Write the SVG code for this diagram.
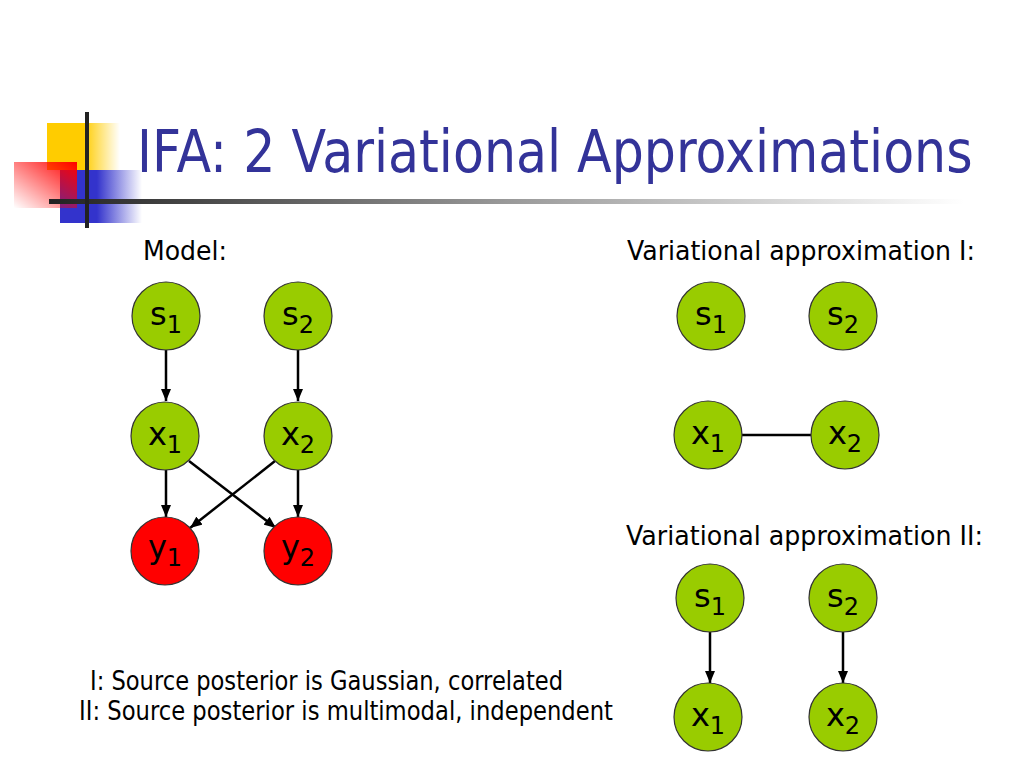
<svg xmlns="http://www.w3.org/2000/svg" width="1024" height="768" viewBox="0 0 1024 768">
<defs>
<style>
.t{font-family:"DejaVu Sans","Liberation Sans",sans-serif;fill:#000}
.title{font-family:"DejaVu Sans","Liberation Sans",sans-serif;fill:#333399;font-size:58px}
.body{font-size:26px}
.lbl{font-family:"DejaVu Sans","Liberation Sans",sans-serif;font-size:32px;fill:#000;text-anchor:middle}
.sub{font-size:24px}
.g{fill:#99CC00;stroke:#333;stroke-width:1.2}
.r{fill:#FF0000;stroke:#333;stroke-width:1.2}
.e{stroke:#000;stroke-width:2.5;fill:none}
.a{marker-end:url(#ah)}
</style>
<marker id="ah" viewBox="0 0 12 10" refX="12" refY="5" markerWidth="12" markerHeight="10" markerUnits="userSpaceOnUse" orient="auto">
<path d="M0,0 L12,5 L0,10 z" fill="#000"/>
</marker>
<linearGradient id="gy" x1="0" y1="0" x2="1" y2="0">
<stop offset="0" stop-color="#FFCC00"/>
<stop offset="0.5" stop-color="#FFCC00"/>
<stop offset="1" stop-color="#FFCC00" stop-opacity="0"/>
</linearGradient>
<linearGradient id="gb" x1="0" y1="0" x2="1" y2="0">
<stop offset="0" stop-color="#3333CC"/>
<stop offset="0.45" stop-color="#3333CC"/>
<stop offset="1" stop-color="#3333CC" stop-opacity="0"/>
</linearGradient>
<linearGradient id="gr" x1="1" y1="0" x2="0" y2="1">
<stop offset="0" stop-color="#FF0000"/>
<stop offset="1" stop-color="#FF0000" stop-opacity="0"/>
</linearGradient>
<linearGradient id="gl" x1="0" y1="0" x2="1" y2="0">
<stop offset="0" stop-color="#222"/>
<stop offset="0.5" stop-color="#999"/>
<stop offset="1" stop-color="#fff"/>
</linearGradient>
</defs>
<rect width="1024" height="768" fill="#fff"/>
<g id="decoration">
<rect x="47" y="123" width="73" height="47" fill="url(#gy)"/>
<rect x="60" y="170" width="82" height="53" fill="url(#gb)"/>
<rect x="14" y="162" width="63" height="46" fill="url(#gr)"/>
<rect x="49" y="199" width="915" height="5" fill="url(#gl)"/>
<rect x="85" y="112" width="4" height="116" fill="#222"/>
</g>
<text class="title" x="0" y="0" transform="translate(137,172) scale(0.85,1)" textLength="983" lengthAdjust="spacingAndGlyphs">IFA: 2 Variational Approximations</text>
<g id="texts">
<text class="t body" x="143" y="260" textLength="84" lengthAdjust="spacingAndGlyphs">Model:</text>
<text class="t body" x="627" y="260" textLength="348" lengthAdjust="spacingAndGlyphs">Variational approximation I:</text>
<text class="t body" x="626" y="545" textLength="357" lengthAdjust="spacingAndGlyphs">Variational approximation II:</text>
<text class="t body" x="90" y="690" textLength="473" lengthAdjust="spacingAndGlyphs">I: Source posterior is Gaussian, correlated</text>
<text class="t body" x="79" y="720" textLength="534" lengthAdjust="spacingAndGlyphs">II: Source posterior is multimodal, independent</text>
</g>
<g id="connectors">
<line class="e a" x1="166" y1="349" x2="166" y2="401"/>
<line class="e a" x1="298" y1="349" x2="298" y2="401"/>
<line class="e a" x1="166" y1="470" x2="166" y2="517"/>
<line class="e a" x1="298" y1="470" x2="298" y2="517"/>
<line class="e a" x1="189" y1="461" x2="276" y2="528"/>
<line class="e a" x1="275" y1="461" x2="190" y2="528"/>
<line class="e" x1="742" y1="435" x2="811" y2="435"/>
<line class="e a" x1="710" y1="632" x2="710" y2="683"/>
<line class="e a" x1="843" y1="632" x2="843" y2="683"/>
</g>
<g id="m_s1"><circle class="g" cx="166" cy="316" r="34"/><text class="lbl" x="166" y="325">s<tspan class="sub" dy="8">1</tspan></text></g>
<g id="m_s2"><circle class="g" cx="298" cy="316" r="34"/><text class="lbl" x="298" y="325">s<tspan class="sub" dy="8">2</tspan></text></g>
<g id="m_x1"><circle class="g" cx="165" cy="436" r="34"/><text class="lbl" x="165" y="445">x<tspan class="sub" dy="8">1</tspan></text></g>
<g id="m_x2"><circle class="g" cx="298" cy="436" r="34"/><text class="lbl" x="298" y="445">x<tspan class="sub" dy="8">2</tspan></text></g>
<g id="m_y1"><circle class="r" cx="165" cy="551" r="34"/><text class="lbl" x="165" y="558">y<tspan class="sub" dy="8">1</tspan></text></g>
<g id="m_y2"><circle class="r" cx="298" cy="551" r="34"/><text class="lbl" x="298" y="558">y<tspan class="sub" dy="8">2</tspan></text></g>
<g id="a1_s1"><circle class="g" cx="711" cy="316" r="34"/><text class="lbl" x="711" y="325">s<tspan class="sub" dy="8">1</tspan></text></g>
<g id="a1_s2"><circle class="g" cx="843" cy="316" r="34"/><text class="lbl" x="843" y="325">s<tspan class="sub" dy="8">2</tspan></text></g>
<g id="a1_x1"><circle class="g" cx="708" cy="435" r="34"/><text class="lbl" x="708" y="444">x<tspan class="sub" dy="8">1</tspan></text></g>
<g id="a1_x2"><circle class="g" cx="845" cy="435" r="34"/><text class="lbl" x="845" y="444">x<tspan class="sub" dy="8">2</tspan></text></g>
<g id="a2_s1"><circle class="g" cx="710" cy="598" r="34"/><text class="lbl" x="710" y="607">s<tspan class="sub" dy="8">1</tspan></text></g>
<g id="a2_s2"><circle class="g" cx="843" cy="598" r="34"/><text class="lbl" x="843" y="607">s<tspan class="sub" dy="8">2</tspan></text></g>
<g id="a2_x1"><circle class="g" cx="708" cy="717" r="34"/><text class="lbl" x="708" y="726">x<tspan class="sub" dy="8">1</tspan></text></g>
<g id="a2_x2"><circle class="g" cx="843" cy="717" r="34"/><text class="lbl" x="843" y="726">x<tspan class="sub" dy="8">2</tspan></text></g>
</svg>
